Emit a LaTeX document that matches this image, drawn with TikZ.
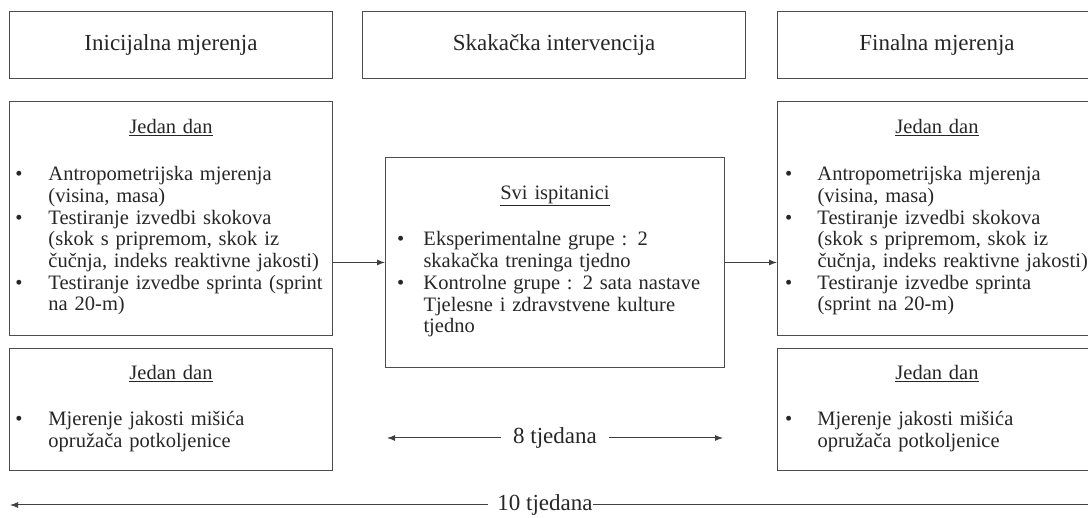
\documentclass[tikz,border=0pt]{standalone}
\usepackage{fontspec}
\setmainfont{Liberation Serif}
\usepackage{array}
\usetikzlibrary{arrows.meta}

% popis s tockama: sirina stupca za tocku, sirina teksta, redovi
\newcommand{\tocke}[3]{\begin{tabular}[t]{@{}p{#1}@{}p{#2}@{}}#3\end{tabular}}

\tikzset{
  okvir/.style={draw=black!70, line width=1pt, anchor=north west, text=black!85},
  naslov/.style={okvir, minimum height=67pt, font=\fontsize{23}{26}\selectfont},
  sadrzaj/.style={okvir, align=center, inner ysep=0pt, font=\fontsize{20.5}{21.7}\selectfont},
  linija/.style={draw=black!75, line width=1pt},
  strelica/.style={linija, -{Latex[length=8pt,width=6pt]}},
  trajanje/.style={inner xsep=12pt, text=black!85, font=\fontsize{23}{26}\selectfont},
}

\begin{document}
\begin{tikzpicture}[x=1pt,y=-1pt]
\useasboundingbox (0,0) rectangle (1088,518);
\clip (0,0) rectangle (1088,518);

% naslovi
\node[naslov, minimum width=323pt] (inic) at (9,11) {Inicijalna mjerenja};
\node[naslov, minimum width=383pt] (skak) at (362,11) {Skakačka intervencija};
\node[naslov, minimum width=319pt] (fin) at (777,11) {Finalna mjerenja};

% inicijalna mjerenja
\node[sadrzaj, inner xsep=6pt, text width=311pt, minimum height=234pt] (lijevo) at (9,101) {%
\underline{Jedan dan}\\[25pt]
\tocke{33pt}{278pt}{%
\textbullet & Antropometrijska mjerenja\\
 & (visina, masa)\\
\textbullet & Testiranje izvedbi skokova\\
 & (skok s pripremom, skok iz\\
 & čučnja, indeks reaktivne jakosti)\\
\textbullet & Testiranje izvedbe sprinta (sprint\\
 & na 20-m)\\}};
\node[sadrzaj, inner xsep=6pt, text width=311pt, minimum height=122pt] (lijevodolje) at (9,348) {%
\underline{Jedan dan}\\[25pt]
\tocke{33pt}{278pt}{%
\textbullet & Mjerenje jakosti mišića\\
 & opružača potkoljenice\\}};

% intervencija
\node[sadrzaj, inner xsep=11.5pt, text width=316pt, minimum height=210pt] (sredina) at (385,157) {%
\underline{Svi ispitanici}\\[25pt]
\tocke{26.5pt}{289.5pt}{%
\textbullet & Eksperimentalne grupe : 2\\
 & skakačka treninga tjedno\\
\textbullet & Kontrolne grupe : 2 sata nastave\\
 & Tjelesne i zdravstvene kulture\\
 & tjedno\\}};

% finalna mjerenja
\node[sadrzaj, inner xsep=7.5pt, text width=304pt, minimum height=234pt] (desno) at (777,101) {%
\underline{Jedan dan}\\[25pt]
\tocke{32.5pt}{271.5pt}{%
\textbullet & Antropometrijska mjerenja\\
 & (visina, masa)\\
\textbullet & Testiranje izvedbi skokova\\
 & (skok s pripremom, skok iz\\
 & čučnja, indeks reaktivne jakosti)\\
\textbullet & Testiranje izvedbe sprinta\\
 & (sprint na 20-m)\\}};
\node[sadrzaj, inner xsep=7.5pt, text width=304pt, minimum height=122pt] (desnodolje) at (777,348) {%
\underline{Jedan dan}\\[25pt]
\tocke{32.5pt}{271.5pt}{%
\textbullet & Mjerenje jakosti mišića\\
 & opružača potkoljenice\\}};

% veze
\draw[strelica] (sredina.west -| lijevo.east) -- (sredina.west);
\draw[strelica] (sredina.east) -- (sredina.east -| desno.west);

% trajanje
\coordinate (t8l) at (387,438);
\coordinate (t8d) at (723,438);
\node[trajanje] (t8) at (555,438) {8 tjedana};
\draw[strelica] (t8) -- (t8l);
\draw[strelica] (t8) -- (t8d);

\coordinate (t10l) at (10,505);
\coordinate (t10d) at (1100,505);
\node[trajanje, inner xsep=0pt] (t10) at (545,505) {10 tjedana};
\draw[strelica] ([xshift=-9pt]t10.west) -- (t10l);
\draw[linija] (t10.east) -- (t10d);
\end{tikzpicture}
\end{document}
